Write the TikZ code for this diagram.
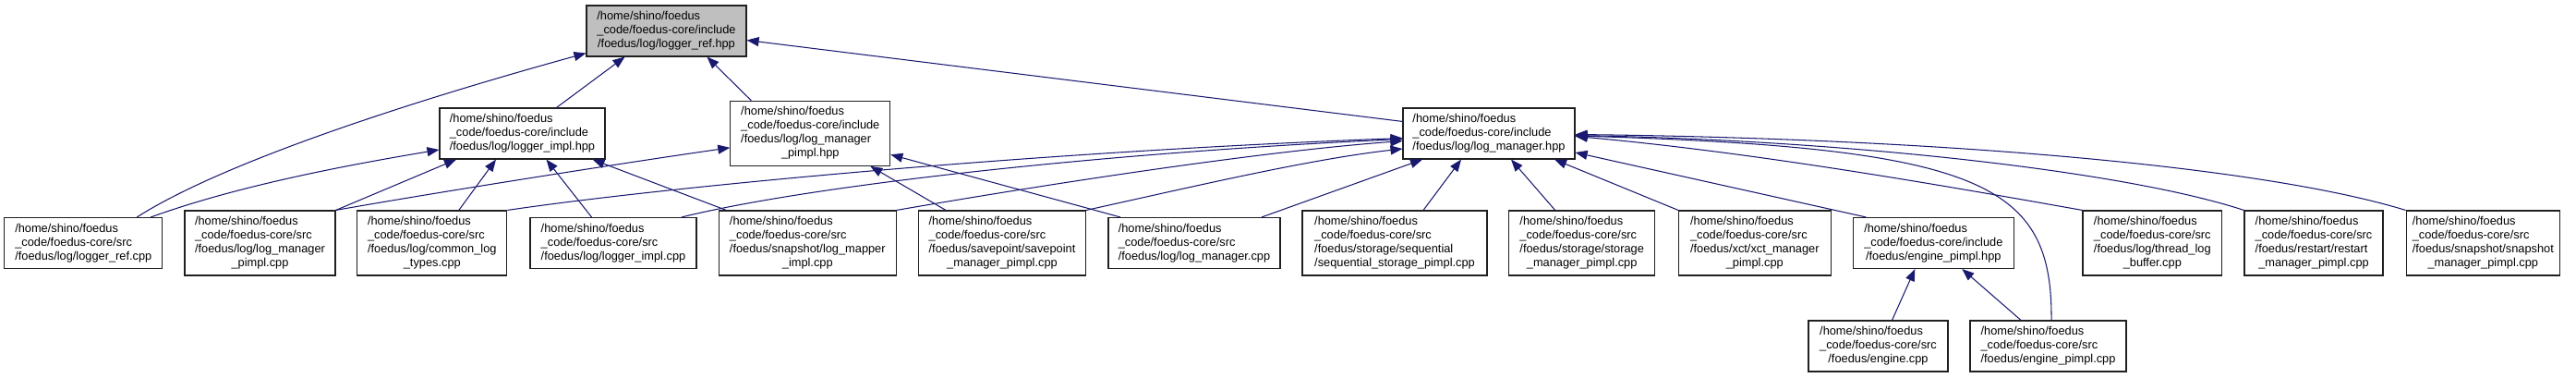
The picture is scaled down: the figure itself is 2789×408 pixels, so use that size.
\documentclass[tikz,border=0pt]{standalone}
\usepackage{fontspec}
\setmainfont{Liberation Sans}
\usetikzlibrary{arrows.meta}
\definecolor{edgec}{HTML}{191970}
\definecolor{rootfill}{HTML}{BFBFBF}
\definecolor{boxline}{HTML}{202020}
\newcommand\Tthree[3]{\begin{tabular}{@{}l@{}}#1\\#2\\\multicolumn{1}{@{}c@{}}{#3}\end{tabular}}
\newcommand\Tfour[4]{\begin{tabular}{@{}l@{}}#1\\#2\\#3\\\multicolumn{1}{@{}c@{}}{#4}\end{tabular}}
\newcommand\fsz{\fontsize{12.8pt}{15pt}\selectfont}
\tikzset{
  box/.style={draw=boxline, line width=1.1pt, fill=white, inner sep=0pt, font=\fsz, anchor=center},
  rootbox/.style={box, fill=rootfill},
  hthree/.style={minimum height=55pt},
  hfour/.style={minimum height=70pt},
  dep/.style={draw=edgec, line width=1.05pt, -{Triangle[length=13pt,width=10pt]}},
}
\begin{document}
\begin{tikzpicture}[x=1pt,y=-1pt]
\useasboundingbox (0,0) rectangle (2789,408);
% rank 0
\node[rootbox,hthree,minimum width=173pt] (root) at (721.5,33.5) {\Tthree{/home/shino/foedus}{\_code/foedus-core/include}{/foedus/log/logger\_ref.hpp}};
% rank 1
\node[box,hthree,minimum width=179pt] (limplh) at (565.5,144.5) {\Tthree{/home/shino/foedus}{\_code/foedus-core/include}{/foedus/log/logger\_impl.hpp}};
\node[box,hfour,minimum width=173pt] (lmph) at (877.3,144.3) {\Tfour{/home/shino/foedus}{\_code/foedus-core/include}{/foedus/log/log\_manager}{\_pimpl.hpp}};
\node[box,hthree,minimum width=186pt] (lmh) at (1612,144.5) {\Tthree{/home/shino/foedus}{\_code/foedus-core/include}{/foedus/log/log\_manager.hpp}};
% rank 2
\node[box,hthree,minimum width=171pt] (lrefc) at (90.3,263) {\Tthree{/home/shino/foedus}{\_code/foedus-core/src}{/foedus/log/logger\_ref.cpp}};
\node[box,hfour,minimum width=163pt] (lmpc) at (281.5,263) {\Tfour{/home/shino/foedus}{\_code/foedus-core/src}{/foedus/log/log\_manager}{\_pimpl.cpp}};
\node[box,hfour,minimum width=162pt] (cltc) at (467.8,263) {\Tfour{/home/shino/foedus}{\_code/foedus-core/src}{/foedus/log/common\_log}{\_types.cpp}};
\node[box,hthree,minimum width=180pt] (limplc) at (664,263) {\Tthree{/home/shino/foedus}{\_code/foedus-core/src}{/foedus/log/logger\_impl.cpp}};
\node[box,hfour,minimum width=191.5pt] (lmapc) at (874.3,263) {\Tfour{/home/shino/foedus}{\_code/foedus-core/src}{/foedus/snapshot/log\_mapper}{\_impl.cpp}};
\node[box,hfour,minimum width=181pt] (spc) at (1085,263) {\Tfour{/home/shino/foedus}{\_code/foedus-core/src}{/foedus/savepoint/savepoint}{\_manager\_pimpl.cpp}};
\node[box,hthree,minimum width=186pt] (lmc) at (1293,263) {\Tthree{/home/shino/foedus}{\_code/foedus-core/src}{/foedus/log/log\_manager.cpp}};
\node[box,hfour,minimum width=200pt] (seqc) at (1510,263) {\Tfour{/home/shino/foedus}{\_code/foedus-core/src}{/foedus/storage/sequential}{/sequential\_storage\_pimpl.cpp}};
\node[box,hfour,minimum width=158pt] (smc) at (1712.7,263) {\Tfour{/home/shino/foedus}{\_code/foedus-core/src}{/foedus/storage/storage}{\_manager\_pimpl.cpp}};
\node[box,hfour,minimum width=164.5pt] (xctc) at (1899.8,263) {\Tfour{/home/shino/foedus}{\_code/foedus-core/src}{/foedus/xct/xct\_manager}{\_pimpl.cpp}};
\node[box,hthree,minimum width=173.5pt] (eph) at (2093.3,263) {\Tthree{/home/shino/foedus}{\_code/foedus-core/include}{/foedus/engine\_pimpl.hpp}};
\node[box,hfour,minimum width=150.6pt] (tlbc) at (2330.3,263) {\Tfour{/home/shino/foedus}{\_code/foedus-core/src}{/foedus/log/thread\_log}{\_buffer.cpp}};
\node[box,hfour,minimum width=150pt] (rsc) at (2505,263) {\Tfour{/home/shino/foedus}{\_code/foedus-core/src}{/foedus/restart/restart}{\_manager\_pimpl.cpp}};
\node[box,hfour,minimum width=166.5pt] (ssc) at (2688.3,263) {\Tfour{/home/shino/foedus}{\_code/foedus-core/src}{/foedus/snapshot/snapshot}{\_manager\_pimpl.cpp}};
% rank 3
\node[box,hthree,minimum width=151pt] (engc) at (2033.5,374.5) {\Tthree{/home/shino/foedus}{\_code/foedus-core/src}{/foedus/engine.cpp}};
\node[box,hthree,minimum width=169pt] (epc) at (2217.5,374.5) {\Tthree{/home/shino/foedus}{\_code/foedus-core/src}{/foedus/engine\_pimpl.cpp}};
% edges into root
\draw[dep] ([xshift=58pt]lrefc.north) .. controls (250,170) and (480,100) .. ([yshift=4pt]root.south west);
\draw[dep] ([xshift=37pt]limplh.north) -- ([xshift=-45pt]root.south);
\draw[dep] ([xshift=-64pt]lmph.north) -- ([xshift=44pt]root.south);
\draw[dep] ([yshift=-15pt]lmh.north west) -- ([yshift=-10pt]root.east);
% edges into logger_impl.hpp
\draw[dep] ([xshift=73pt]lrefc.north) .. controls (260,200) and (380,178) .. ([yshift=-17.5pt]limplh.west);
\draw[dep] (lmpc.north east) -- ([xshift=-71.5pt]limplh.south);
\draw[dep] ([xshift=29pt]cltc.north) -- ([xshift=-28.5pt]limplh.south);
\draw[dep] ([xshift=-23.5pt]limplc.north) -- ([xshift=26pt]limplh.south);
\draw[dep] ([xshift=-88pt]lmapc.north) -- ([xshift=76pt]limplh.south);
% edges into log_manager_pimpl.hpp
\draw[dep] (lmpc.north east) .. controls (450,212) and (650,180) .. ([yshift=-15.5pt]lmph.west);
\draw[dep] ([xshift=-61pt]spc.north) -- ([xshift=65pt]lmph.south);
\draw[dep] ([xshift=-80pt]lmc.north) -- ([yshift=-23pt]lmph.east);
% edges into log_manager.hpp
\draw[dep] (cltc.north east) .. controls (700,205) and (1100,165) .. ([yshift=-5pt]lmh.west);
\draw[dep] ([xshift=74pt]limplc.north) .. controls (880,200) and (1200,165) .. ([yshift=-6pt]lmh.west);
\draw[dep] (lmapc.north east) .. controls (1100,205) and (1350,165) .. ([yshift=-8pt]lmh.west);
\draw[dep] (spc.north east) .. controls (1300,200) and (1420,172) .. ([yshift=-16.5pt]lmh.west);
\draw[dep] ([xshift=73pt]lmc.north) -- ([xshift=-72pt]lmh.south);
\draw[dep] ([xshift=31pt]seqc.north) -- ([xshift=-30pt]lmh.south);
\draw[dep] ([xshift=-29pt]smc.north) -- ([xshift=24pt]lmh.south);
\draw[dep] (xctc.north west) -- ([xshift=71pt]lmh.south);
\draw[dep] ([xshift=-73pt]eph.north) -- ([yshift=-20.5pt]lmh.east);
\draw[dep] (tlbc.north west) .. controls (2100,200) and (1900,165) .. ([yshift=-3pt]lmh.east);
\draw[dep] (rsc.north west) .. controls (2300,185) and (2000,152) .. ([yshift=-2pt]lmh.east);
\draw[dep] (ssc.north west) .. controls (2450,180) and (2100,150) .. ([yshift=-1pt]lmh.east);
\draw[dep] ([xshift=3.5pt]epc.north) .. controls (2222,200) and (2150,160) .. ([yshift=-2.5pt]lmh.east);
% edges into engine_pimpl.hpp
\draw[dep] ([xshift=15pt]engc.north) -- ([xshift=-20pt]eph.south);
\draw[dep] ([xshift=-29.5pt]epc.north) -- ([xshift=31pt]eph.south);
\end{tikzpicture}
\end{document}
